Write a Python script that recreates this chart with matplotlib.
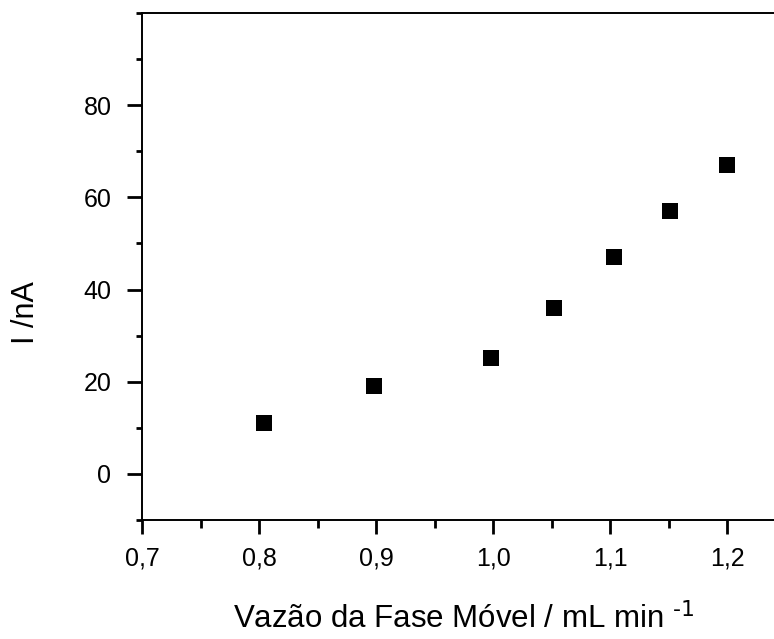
import numpy as np
import matplotlib
matplotlib.use("Agg")
import matplotlib.pyplot as plt
from matplotlib.ticker import MultipleLocator, FuncFormatter

# Flow rate (mL/min) vs current (nA)
vazao = [0.804, 0.898, 0.998, 1.052, 1.103, 1.151, 1.200]
corrente = [11.1, 19.0, 25.1, 36.1, 47.0, 57.0, 67.0]

xticks = [0.7, 0.8, 0.9, 1.0, 1.1, 1.2]
yticks = [0, 20, 40, 60, 80]

plt.rcParams['font.family'] = ['Liberation Sans', 'DejaVu Sans']

fig = plt.figure(figsize=(7.74, 6.39), dpi=100)
# axes right edge runs past the figure (right spine cut off in the original)
ax = fig.add_axes([142/774, 1 - 520/639, 643.5/774, 507/639])

ax.plot(vazao, corrente, linestyle='none', marker='s', markersize=11.5,
        color='black', markeredgewidth=0)

ax.set_xticks(xticks)
ax.set_yticks(yticks)
ax.xaxis.set_minor_locator(MultipleLocator(0.05))
ax.yaxis.set_minor_locator(MultipleLocator(10))
ax.set_xlim(0.7, 1.25)
ax.set_ylim(-10, 100)

ax.xaxis.set_major_formatter(FuncFormatter(lambda v, p: "{:.1f}".format(v).replace('.', ',')))
ax.yaxis.set_major_formatter(FuncFormatter(lambda v, p: "{:.0f}".format(v)))

ax.tick_params(axis='both', which='major', direction='out', width=2, labelsize=18)
ax.tick_params(axis='y', which='major', length=11, pad=11)
ax.tick_params(axis='x', which='major', length=10, pad=9)
ax.tick_params(axis='y', which='minor', direction='out', length=4.5, width=2)
ax.tick_params(axis='x', which='minor', direction='out', length=6, width=2)

for s in ax.spines.values():
    s.set_linewidth(1.4)

ax.set_xlabel(r'Vazão da Fase Móvel / mL min $^{\text{-1}}$', fontsize=22.5)
ax.set_ylabel('I /nA', fontsize=22)
ax.xaxis.set_label_coords(0.5, -0.163)
ax.yaxis.set_label_coords(-0.157, 0.41)

fig.savefig("out.png", dpi=100)
